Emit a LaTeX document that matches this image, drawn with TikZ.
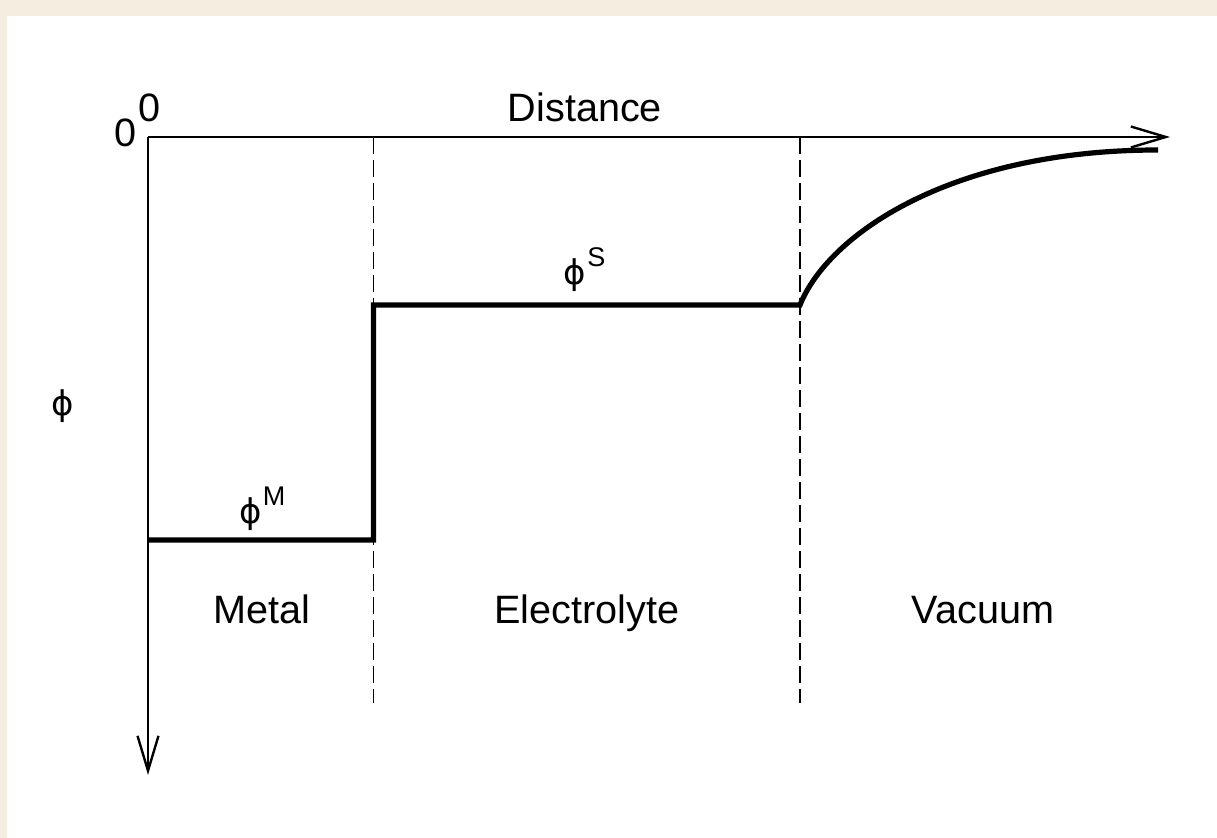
\documentclass[tikz,border=0pt]{standalone}
\usepackage{fontspec}
\setmainfont{Liberation Sans}
\newfontfamily\phifont{DejaVu Sans}
\usetikzlibrary{arrows.meta}
\definecolor{beige}{RGB}{245,238,224}
\tikzset{
  axis/.style={line width=1.4pt, -{Straight Barb[length=17.5pt,width=10.5pt,line width=1.2pt]}},
  profile/.style={line width=2.6pt, line join=miter},
  divider/.style={line width=0.9pt, dash pattern=on 8.5pt off 3pt},
  lbl/.style={inner sep=0pt, anchor=base, font=\fontsize{19.8}{22}\selectfont},
  phil/.style={inner sep=0pt, font=\phifont\fontsize{17}{20}\selectfont},
  supl/.style={inner sep=0pt, font=\fontsize{13.5}{15}\selectfont}
}
\begin{document}
\begin{tikzpicture}[x=0.5pt,y=-0.5pt]
\fill[beige] (0,0) rectangle (1217,838);
\fill[white] (7,16) rectangle (1217,838);
\useasboundingbox (0,0) rectangle (1217,838);
% axes
\coordinate (O) at (148,137);
\coordinate (xend) at (1170,137);
\coordinate (yend) at (148,775);
\draw[axis] (O) -- (xend);
\draw[axis] (O) -- (yend);
% dividers
\coordinate (d1t) at (373.5,137);
\coordinate (d1b) at (373.5,703);
\coordinate (d2t) at (800,137);
\coordinate (d2b) at (800,703);
\draw[divider] (d1t) -- (d1b);
\draw[divider] (d2t) -- (d2b);
% profile
\coordinate (p0) at (148,540);
\coordinate (p1) at (373.5,540);
\coordinate (p2) at (373.5,305);
\coordinate (p3) at (800,305);
\coordinate (p4) at (1158,150);
\draw[profile] (p0) -- (p1) -- (p2) -- (p3) .. controls (828,235) and (950,150) .. (p4);
% labels
\node[lbl] (zero) at (126,147) {0};
\node[lbl] (zerosup) at (150,121.5) {0};
\node[lbl] (dist) at (585,122) {Distance};
\node[phil] (phiaxis) at (63,406) {ϕ};
\node[phil] (phiM) at (251,514) {ϕ};
\node[supl] (supM) at (274,496.5) {M};
\node[phil] (phiS) at (575,275) {ϕ};
\node[supl] (supS) at (596.5,257.5) {S};
\node[lbl] (metal) at (262,624) {Metal};
\node[lbl] (elec) at (587,624) {Electrolyte};
\node[lbl] (vac) at (983,624) {Vacuum};
\end{tikzpicture}
\end{document}
